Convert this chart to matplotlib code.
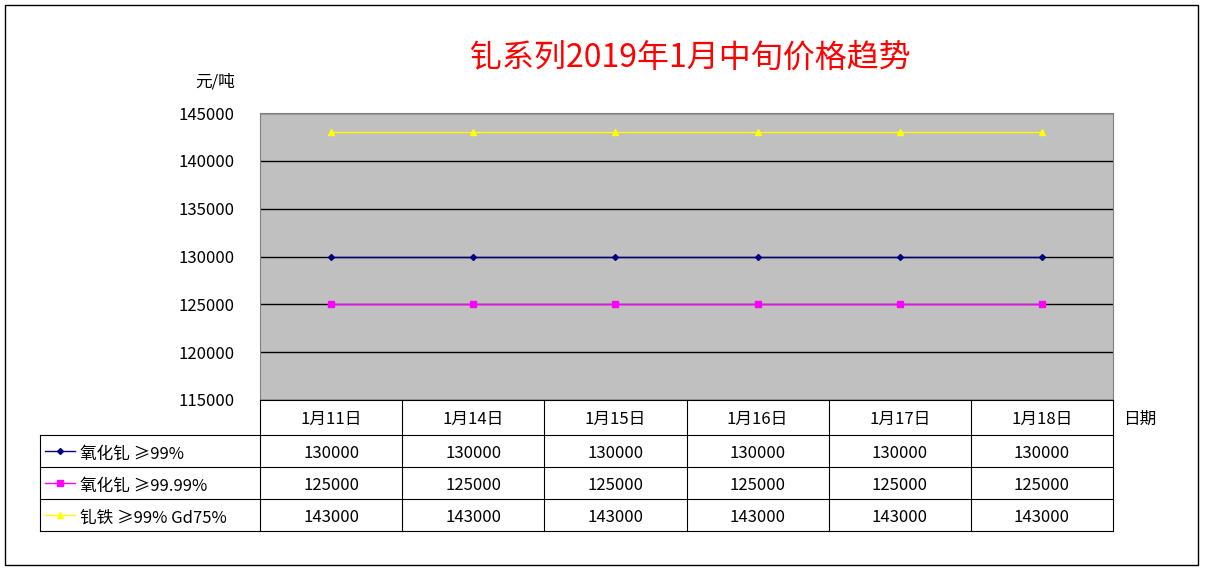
import matplotlib
matplotlib.use("Agg")
import matplotlib.pyplot as plt
from matplotlib.lines import Line2D
from matplotlib.patches import Rectangle

plt.rcParams['font.family'] = ['Noto Sans CJK SC', 'DejaVu Sans']

categories = ["1月11日", "1月14日", "1月15日", "1月16日", "1月17日", "1月18日"]
series_names = ["氧化钆 ≥99%", "氧化钆 ≥99.99%", "钆铁 ≥99% Gd75%"]
s1 = [130000, 130000, 130000, 130000, 130000, 130000]
s2 = [125000, 125000, 125000, 125000, 125000, 125000]
s3 = [143000, 143000, 143000, 143000, 143000, 143000]
series = [s1, s2, s3]
colors = ["#000080", "#FF00FF", "#FFFF00"]
markers = ["D", "s", "^"]
msizes = [3, 4, 5]
yticks = [115000, 120000, 125000, 130000, 135000, 140000, 145000]

W, H = 1205, 571
fig = plt.figure(figsize=(W/100, H/100), dpi=100)
def fx(x): return x / W
def fy(y): return 1 - y / H

L, R, T, B = 260, 1113, 113, 400
ax = fig.add_axes([fx(L), fy(B), fx(R) - fx(L), fy(T) - fy(B)])
ax.set_facecolor("#C0C0C0")
n = len(categories)
xs = list(range(n))
for s, c, m, ms in zip(series, colors, markers, msizes):
    ax.plot(xs, s, color=c, marker=m, markersize=ms, lw=1)
ax.set_xlim(-0.5, n - 0.5)
ax.set_ylim(115000, 145000)
ax.set_yticks(yticks)
ax.set_yticklabels([str(v) for v in yticks], fontsize=12)
ax.yaxis.grid(True, color="black", lw=1)
ax.set_axisbelow(True)
ax.set_xticks([])
ax.tick_params(axis='y', length=0, pad=18)
for sp in ax.spines.values():
    sp.set_color("#808080")
    sp.set_linewidth(0.8)
ax.spines['bottom'].set_color("black")

fig.add_artist(Rectangle((fx(5), fy(565)), fx(1198) - fx(5), fy(5) - fy(565),
                         fill=False, ec="black", lw=1, transform=fig.transFigure))

fig.text(fx(690), fy(58), "钆系列2019年1月中旬价格趋势", color="red", fontsize=23,
         ha="center", va="center")
fig.text(fx(215), fy(82), "元/吨", fontsize=12, ha="center", va="center")
fig.text(fx(1140), fy(419), "日期", fontsize=12, ha="center", va="center")

def line(x1, y1, x2, y2):
    fig.add_artist(Line2D([fx(x1), fx(x2)], [fy(y1), fy(y2)], color="black", lw=0.8,
                          transform=fig.transFigure))

cw = (R - L) / n
rows = [400, 435, 467, 499, 531]
for k in range(n + 1):
    line(L + cw * k, 400, L + cw * k, 531)
line(40, 435, 40, 531)
for y in rows[1:]:
    line(40, y, R, y)

for k, c in enumerate(categories):
    fig.text(fx(L + cw * (k + 0.5)), fy(419), c, fontsize=12, ha="center", va="center")
for i, (name, s, c, m, ms) in enumerate(zip(series_names, series, colors, markers, msizes)):
    yc = (rows[i + 1] + rows[i + 2]) / 2
    ty = yc + 3
    fig.add_artist(Line2D([fx(45), fx(75)], [fy(yc), fy(yc)], color=c, lw=1,
                          transform=fig.transFigure))
    fig.add_artist(Line2D([fx(60)], [fy(yc)], color=c, marker=m, markersize=ms,
                          transform=fig.transFigure))
    fig.text(fx(80), fy(ty), name, fontsize=12, ha="left", va="center")
    for k, v in enumerate(s):
        fig.text(fx(L + cw * (k + 0.5)), fy(ty), str(v), fontsize=12, ha="center", va="center")

fig.savefig("out.png", dpi=100, facecolor="white")
